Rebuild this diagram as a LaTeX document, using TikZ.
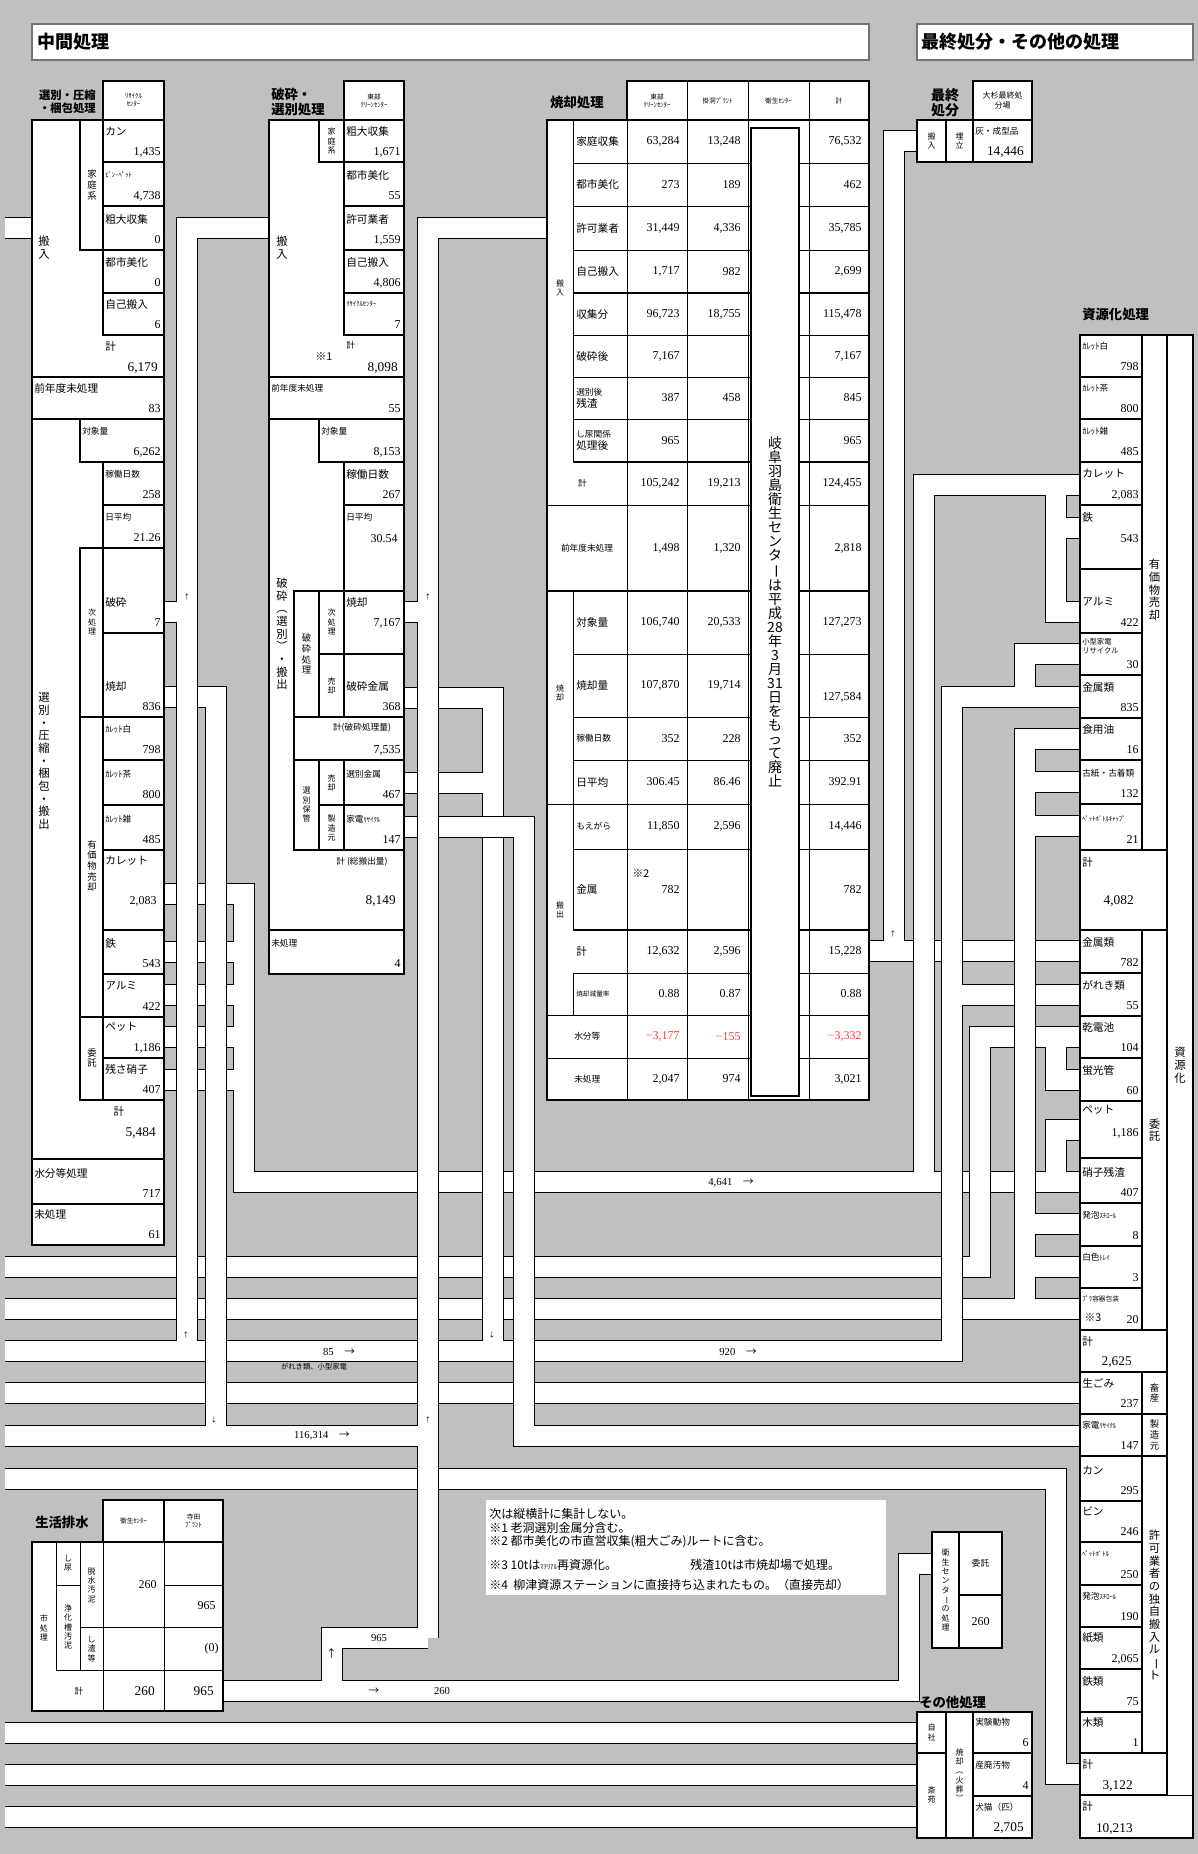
\documentclass[tikz,border=0pt]{standalone}
\usepackage{fontspec}
\setmainfont{Noto Sans CJK JP}
\newfontfamily\numfont{Liberation Serif}
\usepackage{graphicx}

\definecolor{bgray}{HTML}{C0C0C0}
\definecolor{negred}{HTML}{FF3B3B}

\newcommand\sml{\fontsize{6.5}{7.5}\selectfont}
\newcommand\tny{\fontsize{5}{6}\selectfont}
\newcommand\vbar{\rotatebox[origin=c]{-90}{ー}}

% box with label (upper left) and value (lower right)
\newcommand\itemcell[7]{%
  \draw[tbl] (#2,#3) rectangle (#4,#5);
  \node[lbl, anchor=west] (#1l) at (#2+2,#5-31) {#6};
  \node[val, anchor=east] (#1v) at (#4-3,#5-10) {#7};}

% one row of the incineration table
\newcommand\irow[6]{%
  \node[lbl, anchor=west] (#1l) at (576,#2) {#3};
  \node[val, anchor=east] (#1a) at (680,#2) {#4};
  \node[val, anchor=east] (#1b) at (741,#2) {#5};
  \node[val, anchor=east] (#1c) at (862,#2) {#6};}

% a pipe: black outline, then white inside
\newcommand\pipes[1]{\draw[pipeo] #1; \draw[pipei] #1;}

\begin{document}
\begin{tikzpicture}[x=0.75pt, y=-0.75pt,
  tbl/.style={draw, fill=white, line width=0.8pt},
  gline/.style={draw, line width=0.6pt},
  lbl/.style={font=\fontsize{8}{9}\selectfont, inner sep=0pt, align=left},
  val/.style={font=\numfont\fontsize{9}{10}\selectfont, inner sep=0pt},
  hdr/.style={font=\fontsize{5}{6}\selectfont, inner sep=0pt, align=center},
  vsml/.style={font=\fontsize{6}{7}\selectfont, inner sep=0pt, align=center},
  vlab/.style={font=\fontsize{7}{8}\selectfont, inner sep=0pt, align=center},
  vbig/.style={font=\fontsize{8.5}{9.5}\selectfont, inner sep=0pt, align=center},
  head/.style={font=\bfseries\fontsize{10}{11.5}\selectfont, inner sep=0pt, align=left},
  ttext/.style={font=\bfseries\fontsize{13.5}{15}\selectfont, inner sep=0pt},
  ttl/.style={draw=black!55, fill=white, line width=0.8pt},
  arw/.style={font=\fontsize{5}{5}\selectfont, inner sep=0pt},
  flowtxt/.style={font=\fontsize{8}{9}\selectfont, inner sep=0pt},
  notetxt/.style={font=\fontsize{9}{10}\selectfont, inner sep=0pt, anchor=west},
  pipeo/.style={draw=black, line width=16.5pt},
  pipei/.style={draw=white, line width=15pt}]

  % Background
  \path[use as bounding box, fill=bgray] (0,0) rectangle (1198,1854);

  % Pipes
  \pipes{(5,227.5) -- (32,227.5)}
  \pipes{(869,950.5) -- (1080,950.5) (893.5,950.5) -- (893.5,140.5) -- (917,140.5)}
  \pipes{(164,894) -- (244,894) -- (244,1182) -- (1080,1182)
    (164,952) -- (244,952) (164,995) -- (244,995) (164,1037) -- (244,1037) (164,1079.5) -- (244,1079.5)
    (924,1182) -- (924,484.5) -- (1080,484.5)
    (1056,484.5) -- (1056,611.5) -- (1080,611.5) (1056,527.5) -- (1080,527.5)
    (1056,1182) -- (1056,1130) -- (1080,1130)}
  \pipes{(5,1266.5) -- (980,1266.5) -- (980,1037) -- (1080,1037) (1056,1037) -- (1056,1079.5) -- (1080,1079.5)}
  \pipes{(5,1309) -- (1080,1309) (1025,1309) -- (1025,738.5) -- (1080,738.5)
    (1025,782) -- (1080,782) (1025,826) -- (1080,826) (1025,1224) -- (1080,1224) (1025,1266.5) -- (1080,1266.5)}
  \pipes{(5,1393) -- (1080,1393)}
  \pipes{(5,1478.5) -- (1056,1478.5) -- (1056,1774) -- (1080,1774)}
  \pipes{(5,1732.5) -- (917,1732.5)}
  \pipes{(5,1774.5) -- (917,1774.5)}
  \pipes{(5,1816.5) -- (917,1816.5)}
  \pipes{(164,611.5) -- (187,611.5) (187,1350.5) -- (187,227.5) -- (269,227.5)
    (5,1350.5) -- (952,1350.5) -- (952,696.5) -- (1080,696.5)
    (1025,696.5) -- (1025,653.5) -- (1080,653.5) (952,995) -- (1080,995)
    (404,697.5) -- (493,697.5) -- (493,1350.5) (404,783) -- (493,783)}
  \pipes{(404,827) -- (524,827) -- (524,1435.5) -- (1080,1435.5)}
  \pipes{(5,1435.5) -- (428,1435.5)
    (164,696.5) -- (215.5,696.5) -- (215.5,1435.5)
    (404,611.5) -- (428,611.5)
    (428,1637.5) -- (428,228) -- (547,228)
    (223,1691) -- (909,1691) -- (909,1563.5) -- (932,1563.5)
    (331.5,1691) -- (331.5,1637.5) -- (428,1637.5)}
  \pipes{(187,680) -- (187,713)}
  \pipes{(1025,980) -- (1025,1010)}

  % Titles
  \draw[ttl] (32,24) rectangle (869,60);
  \node[ttext, anchor=west] (t1) at (37,42) {中間処理};
  \draw[ttl] (917,24) rectangle (1193,60);
  \node[ttext, anchor=west] (t2) at (921,42) {最終処分・その他の処理};

  % 選別・圧縮・梱包処理
  \node[head, font=\bfseries\fontsize{8.5}{10}\selectfont, align=right, anchor=east] (h1) at (96,102) {選別・圧縮\\・梱包処理};
  \draw[tbl] (103,81) rectangle (164,120);
  \node[hdr] (h1c) at (133.5,100.5) {ﾘｻｲｸﾙ\\ｾﾝﾀｰ};
  \draw[tbl] (32,120) rectangle (164,1245);
  \draw[tbl] (80,120) rectangle (103,250);
  \node[vlab] (s1k) at (92,185) {家\\庭\\系};
  \itemcell{s1a}{103}{120}{164}{162}{カン}{1,435}
  \itemcell{s1b}{103}{162}{164}{206}{\tny ﾋﾞﾝ･ﾍﾟｯﾄ}{4,738}
  \itemcell{s1c}{103}{206}{164}{250}{粗大収集}{0}
  \itemcell{s1d}{103}{250}{164}{293}{都市美化}{0}
  \itemcell{s1e}{103}{293}{164}{335}{自己搬入}{6}
  \node[lbl, anchor=west] (s1t) at (105,346) {計};
  \node[val, anchor=east, font=\numfont\fontsize{10}{11}\selectfont] (s1tv) at (158,368) {6,179};
  \node[vbig] (s1in) at (44,248) {搬\\入};
  \itemcell{s1f}{32}{377}{164}{419}{前年度未処理}{83}
  \itemcell{s1g}{80}{419}{164}{462}{\sml 対象量}{6,262}
  \itemcell{s1h}{103}{462}{164}{505}{\sml 稼働日数}{258}
  \itemcell{s1i}{103}{505}{164}{548}{\sml 日平均}{21.26}
  \draw[tbl] (80,548) rectangle (103,717);
  \node[vsml] (s1j) at (92,622) {次\\処\\理};
  \itemcell{s1k2}{103}{548}{164}{633}{破砕}{7}
  \itemcell{s1l}{103}{633}{164}{717}{焼却}{836}
  \draw[tbl] (80,717) rectangle (103,1017);
  \node[vlab] (s1m) at (92,866) {有\\価\\物\\売\\却};
  \itemcell{s1n}{103}{717}{164}{760}{\sml ｶﾚｯﾄ白}{798}
  \itemcell{s1o}{103}{760}{164}{805}{\sml ｶﾚｯﾄ茶}{800}
  \itemcell{s1p}{103}{805}{164}{850}{\sml ｶﾚｯﾄ雑}{485}
  \draw[tbl] (103,850) rectangle (164,930);
  \node[lbl, anchor=west] (s1cl) at (105,861) {カレット};
  \node[val, anchor=east] (s1cv) at (157,901) {2,083};
  \itemcell{s1q}{103}{930}{164}{974}{鉄}{543}
  \itemcell{s1r}{103}{974}{164}{1017}{アルミ}{422}
  \draw[tbl] (80,1017) rectangle (103,1100);
  \node[vlab] (s1s) at (92,1058) {委\\託};
  \itemcell{s1u}{103}{1017}{164}{1058}{ペット}{1,186}
  \itemcell{s1w}{103}{1058}{164}{1100}{残さ硝子}{407}
  \node[lbl] (s1x) at (119,1111) {計};
  \node[val, anchor=east, font=\numfont\fontsize{10}{11}\selectfont] (s1xv) at (156,1133) {5,484};
  \itemcell{s1y}{32}{1159}{164}{1204}{水分等処理}{717}
  \itemcell{s1z}{32}{1204}{164}{1245}{未処理}{61}
  \node[vbig] (s1out) at (44,761) {選\\別\\・\\圧\\縮\\・\\梱\\包\\・\\搬\\出};

  % 破砕・選別処理
  \node[head, anchor=west] (h2) at (271,102) {破砕・\\選別処理};
  \draw[tbl] (344,81) rectangle (404,120);
  \node[hdr] (h2c) at (374,100.5) {東部\\ｸﾘｰﾝｾﾝﾀｰ};
  \draw[tbl] (269,120) rectangle (404,974);
  \draw[tbl] (319,120) rectangle (344,162);
  \node[vsml] (s2k) at (331.5,141) {家\\庭\\系};
  \itemcell{s2a}{344}{120}{404}{162}{粗大収集}{1,671}
  \itemcell{s2b}{344}{162}{404}{206}{都市美化}{55}
  \itemcell{s2c}{344}{206}{404}{250}{許可業者}{1,559}
  \itemcell{s2d}{344}{250}{404}{293}{自己搬入}{4,806}
  \itemcell{s2e}{344}{293}{404}{335}{\tny ﾘｻｲｸﾙｾﾝﾀｰ}{7}
  \node[lbl, anchor=west] (s2t) at (346,345) {\sml 計};
  \node[lbl] (s2n1) at (324,357) {※1};
  \node[val, anchor=east, font=\numfont\fontsize{10}{11}\selectfont] (s2tv) at (398,368) {8,098};
  \node[vbig] (s2in) at (282,248) {搬\\入};
  \itemcell{s2f}{269}{377}{404}{419}{\sml 前年度未処理}{55}
  \itemcell{s2g}{319}{419}{404}{462}{\sml 対象量}{8,153}
  \itemcell{s2h}{344}{462}{404}{505}{稼働日数}{267}
  \draw[tbl] (344,505) rectangle (404,591);
  \node[lbl, anchor=west] (s2il) at (346,517) {\sml 日平均};
  \node[val, anchor=east] (s2iv) at (398,539) {30.54};
  \draw[tbl] (294,591) rectangle (404,760);
  \draw[tbl] (294,591) rectangle (319,717);
  \node[vlab] (s2p) at (306.5,654) {破\\砕\\処\\理};
  \draw[tbl] (319,591) rectangle (344,654);
  \node[vsml] (s2j) at (331.5,622) {次\\処\\理};
  \draw[tbl] (344,591) rectangle (404,654);
  \node[lbl, anchor=west] (s2ol) at (346,602) {焼却};
  \node[val, anchor=east] (s2ov) at (401,623) {7,167};
  \draw[tbl] (319,654) rectangle (344,717);
  \node[vsml] (s2u1) at (331.5,686) {売\\却};
  \itemcell{s2q}{344}{654}{404}{717}{破砕金属}{368}
  \node[lbl] (s2sl) at (362,728) {\sml 計(破砕処理量)};
  \node[val, anchor=east] (s2sv) at (401,750) {7,535};
  \draw[tbl] (294,760) rectangle (404,850);
  \node[vsml] (s2h1) at (306.5,805) {選\\別\\保\\管};
  \draw[tbl] (319,760) rectangle (344,805);
  \node[vsml] (s2u2) at (331.5,783) {売\\却};
  \draw[tbl] (319,805) rectangle (344,850);
  \node[vsml] (s2m) at (331.5,828) {製\\造\\元};
  \itemcell{s2r}{344}{760}{404}{805}{\sml 選別金属}{467}
  \itemcell{s2s}{344}{805}{404}{850}{\sml 家電\tny ﾘｻｲｸﾙ}{147}
  \node[lbl] (s2tl) at (362,862) {\sml 計 (総搬出量)};
  \node[val, anchor=east, font=\numfont\fontsize{10}{11}\selectfont] (s2tv2) at (396,901) {8,149};
  \itemcell{s2v}{269}{930}{404}{974}{\sml 未処理}{4}
  \node[vbig] (s2out) at (282,634) {破\\砕\\︵\\選\\別\\︶\\・\\搬\\出};

  % 焼却処理
  \node[head, anchor=west] (h3) at (550,102) {焼却処理};
  \draw[tbl] (627,81) rectangle (869,120);
  \node[hdr] (h3a) at (657,100.5) {東部\\ｸﾘｰﾝｾﾝﾀｰ};
  \node[hdr] (h3b) at (717.5,100.5) {掛洞ﾌﾟﾗﾝﾄ};
  \node[hdr] (h3c) at (778.5,100.5) {衛生ｾﾝﾀｰ};
  \node[hdr] (h3d) at (839,100.5) {計};
  \draw[tbl] (547,120) rectangle (869,1100);
  \draw[gline] (573,120) -- (573,462) (573,591) -- (573,930) (573,973) -- (573,1015)
    (627,81) -- (627,1100) (687,81) -- (687,1100) (748,81) -- (748,1100) (809,81) -- (809,1100)
    (573,163) -- (869,163) (573,206) -- (869,206) (573,250) -- (869,250) (573,335) -- (869,335)
    (573,377) -- (869,377) (573,419) -- (869,419) (547,505) -- (869,505)
    (573,654) -- (869,654) (573,717) -- (869,717) (573,760) -- (869,760) (547,804) -- (869,804)
    (573,849) -- (869,849) (573,973) -- (869,973) (547,1015) -- (869,1015) (547,1058) -- (869,1058);
  \draw[line width=1.2pt] (573,293) -- (869,293) (573,462) -- (869,462) (547,591) -- (869,591) (573,930) -- (869,930);
  \node[vsml] (s3in) at (560,288) {搬\\入};
  \node[vsml] (s3ic) at (560,693) {焼\\却};
  \node[vsml] (s3out) at (560,910) {搬\\出};
  \irow{r01}{141.5}{家庭収集}{63,284}{13,248}{76,532}
  \irow{r02}{184.5}{都市美化}{273}{189}{462}
  \irow{r03}{228}{許可業者}{31,449}{4,336}{35,785}
  \irow{r04}{271.5}{自己搬入}{1,717}{982}{2,699}
  \irow{r05}{314}{収集分}{96,723}{18,755}{115,478}
  \irow{r06}{356}{破砕後}{7,167}{}{7,167}
  \irow{r07}{398}{\sml 選別後\\残渣}{387}{458}{845}
  \irow{r08}{440.5}{\sml し尿関係\\処理後}{965}{}{965}
  \irow{r09}{483.5}{\sml\ 計}{105,242}{19,213}{124,455}
  \node[lbl] (r10l) at (587,548) {\sml 前年度未処理};
  \node[val, anchor=east] (r10a) at (680,548) {1,498};
  \node[val, anchor=east] (r10b) at (741,548) {1,320};
  \node[val, anchor=east] (r10c) at (862,548) {2,818};
  \irow{r11}{622.5}{対象量}{106,740}{20,533}{127,273}
  \irow{r12}{685.5}{焼却量}{107,870}{19,714}{}
  \node[val, anchor=east] (r12d) at (862,697) {127,584};
  \irow{r13}{738.5}{\sml 稼働日数}{352}{228}{352}
  \irow{r14}{782}{日平均}{306.45}{86.46}{392.91}
  \irow{r15}{826.5}{\sml もえがら}{11,850}{2,596}{14,446}
  \irow{r16}{889.5}{金属}{782}{}{782}
  \node[lbl] (r16n) at (641,874) {※2};
  \irow{r17}{951.5}{計}{12,632}{2,596}{15,228}
  \irow{r18}{994}{\tny 焼却減量率}{0.88}{0.87}{0.88}
  \node[lbl, anchor=west] (r19l) at (574,1036.5) {\sml 水分等};
  \node[val, anchor=east, text=negred] (r19a) at (680,1036.5) {−3,177};
  \node[val, anchor=east, text=negred] (r19b) at (741,1036.5) {−155};
  \node[val, anchor=east, text=negred] (r19c) at (862,1036.5) {−3,332};
  \node[lbl, anchor=west] (r20l) at (574,1079) {\sml 未処理};
  \node[val, anchor=east] (r20a) at (680,1079) {2,047};
  \node[val, anchor=east] (r20b) at (741,1079) {974};
  \node[val, anchor=east] (r20c) at (862,1079) {3,021};
  \draw[tbl] (751,128) rectangle (799,1096);
  \node[font=\fontsize{10.5}{10.5}\selectfont, align=center, inner sep=0pt] (haishi) at (775,612)
    {岐\\阜\\羽\\島\\衛\\生\\セ\\ン\\タ\\\vbar\\は\\平\\成\\28\\年\\3\\月\\31\\日\\を\\も\\っ\\て\\廃\\止};

  % 最終処分
  \node[head, align=center, font=\bfseries\fontsize{10.5}{10}\selectfont] (h4) at (945,103) {最終\\処分};
  \draw[tbl] (973,81) rectangle (1032,120);
  \node[hdr, font=\fontsize{6}{7}\selectfont] (h4c) at (1002.5,100.5) {大杉最終処\\分場};
  \draw[tbl] (917,120) rectangle (946,162);
  \node[vsml] (f1a) at (931.5,141) {搬\\入};
  \draw[tbl] (946,120) rectangle (973,162);
  \node[vsml] (f1b) at (959.5,141) {埋\\立};
  \draw[tbl] (973,120) rectangle (1032,162);
  \node[lbl, anchor=west] (f1l) at (975,131) {\sml 灰・成型品};
  \node[val, anchor=east, font=\numfont\fontsize{10}{11}\selectfont] (f1v) at (1024,152) {14,446};

  % 資源化処理
  \node[head, anchor=west] (h5) at (1082,314) {資源化処理};
  \draw[tbl] (1080,335) rectangle (1193,1838);
  \draw[gline] (1167,335) -- (1167,1795) (1080,1795) -- (1193,1795);
  \draw[tbl] (1142,335) rectangle (1167,850);
  \draw[tbl] (1142,930) rectangle (1167,1330);
  \draw[tbl] (1142,1372) rectangle (1167,1414);
  \draw[tbl] (1142,1414) rectangle (1167,1456);
  \draw[tbl] (1142,1456) rectangle (1167,1753);
  \node[vbig] (g1) at (1154.5,590) {有\\価\\物\\売\\却};
  \node[vbig] (g2) at (1154.5,1130) {委\\託};
  \node[vlab] (g3) at (1154.5,1393) {畜\\産};
  \node[vlab] (g4) at (1154.5,1435) {製\\造\\元};
  \node[vbig] (g5) at (1154.5,1605) {許\\可\\業\\者\\の\\独\\自\\搬\\入\\ル\\\vbar\\ト};
  \node[vbig] (g6) at (1180,1065) {資\\源\\化};
  \itemcell{q01}{1080}{335}{1142}{377}{\sml ｶﾚｯﾄ白}{798}
  \itemcell{q02}{1080}{377}{1142}{419}{\sml ｶﾚｯﾄ茶}{800}
  \itemcell{q03}{1080}{419}{1142}{462}{\sml ｶﾚｯﾄ雑}{485}
  \itemcell{q04}{1080}{462}{1142}{505}{カレット}{2,083}
  \draw[tbl] (1080,505) rectangle (1142,569);
  \node[lbl, anchor=west] (q05l) at (1082,517) {鉄};
  \node[val, anchor=east] (q05v) at (1139,539) {543};
  \itemcell{q06}{1080}{569}{1142}{633}{アルミ}{422}
  \draw[tbl] (1080,633) rectangle (1142,675);
  \node[lbl, anchor=west, font=\fontsize{5.5}{6.5}\selectfont] (q07l) at (1082,646) {小型家電\\リサイクル};
  \node[val, anchor=east] (q07v) at (1139,665) {30};
  \itemcell{q08}{1080}{675}{1142}{718}{金属類}{835}
  \itemcell{q09}{1080}{718}{1142}{760}{食用油}{16}
  \itemcell{q10}{1080}{760}{1142}{804}{\sml 古紙・古着類}{132}
  \itemcell{q11}{1080}{804}{1142}{850}{\tny ﾍﾟｯﾄﾎﾞﾄﾙｷｬｯﾌﾟ}{21}
  \draw[tbl] (1080,850) rectangle (1167,930);
  \node[lbl, anchor=west] (q12l) at (1082,862) {計};
  \node[val, anchor=east, font=\numfont\fontsize{10}{11}\selectfont] (q12v) at (1134,901) {4,082};
  \itemcell{q13}{1080}{930}{1142}{973}{金属類}{782}
  \itemcell{q14}{1080}{973}{1142}{1016}{がれき類}{55}
  \itemcell{q15}{1080}{1016}{1142}{1058}{乾電池}{104}
  \itemcell{q16}{1080}{1058}{1142}{1101}{蛍光管}{60}
  \draw[tbl] (1080,1101) rectangle (1142,1158);
  \node[lbl, anchor=west] (q17l) at (1082,1110) {ペット};
  \node[val, anchor=east] (q17v) at (1139,1133) {1,186};
  \itemcell{q18}{1080}{1158}{1142}{1203}{硝子残渣}{407}
  \itemcell{q19}{1080}{1203}{1142}{1246}{\sml 発泡\tny ｽﾁﾛｰﾙ}{8}
  \itemcell{q20}{1080}{1246}{1142}{1288}{\sml 白色\tny ﾄﾚｲ}{3}
  \itemcell{q21}{1080}{1288}{1142}{1330}{\tny ﾌﾟﾗ容器包装}{20}
  \node[lbl] (q21n) at (1093,1318) {※3};
  \draw[tbl] (1080,1330) rectangle (1167,1372);
  \node[lbl, anchor=west] (q22l) at (1082,1341) {計};
  \node[val, anchor=east, font=\numfont\fontsize{10}{11}\selectfont] (q22v) at (1132,1362) {2,625};
  \itemcell{q23}{1080}{1372}{1142}{1414}{生ごみ}{237}
  \itemcell{q24}{1080}{1414}{1142}{1456}{\sml 家電\tny ﾘｻｲｸﾙ}{147}
  \itemcell{q25}{1080}{1456}{1142}{1501}{カン}{295}
  \itemcell{q26}{1080}{1501}{1142}{1542}{ビン}{246}
  \itemcell{q27}{1080}{1542}{1142}{1585}{\tny ﾍﾟｯﾄﾎﾞﾄﾙ}{250}
  \itemcell{q28}{1080}{1585}{1142}{1627}{\sml 発泡\tny ｽﾁﾛｰﾙ}{190}
  \itemcell{q29}{1080}{1627}{1142}{1669}{紙類}{2,065}
  \itemcell{q30}{1080}{1669}{1142}{1712}{鉄類}{75}
  \itemcell{q31}{1080}{1712}{1142}{1753}{木類}{1}
  \draw[tbl] (1080,1753) rectangle (1167,1795);
  \node[lbl, anchor=west] (q32l) at (1082,1764) {計};
  \node[val, anchor=east, font=\numfont\fontsize{10}{11}\selectfont] (q32v) at (1133,1786) {3,122};
  \node[lbl, anchor=west] (q33l) at (1082,1806) {計};
  \node[val, anchor=east, font=\numfont\fontsize{10}{11}\selectfont] (q33v) at (1133,1829) {10,213};

  % 衛生センターの処理
  \draw[tbl] (932,1532) rectangle (959,1648);
  \node[vsml] (e1) at (945.5,1590) {衛\\生\\セ\\ン\\タ\\\vbar\\の\\処\\理};
  \draw[tbl] (959,1532) rectangle (1002,1595);
  \node[lbl] (e2) at (980.5,1563.5) {\sml 委託};
  \draw[tbl] (959,1595) rectangle (1002,1648);
  \node[val] (e3) at (980.5,1621.5) {260};

  % その他処理
  \node[head, anchor=west] (h6) at (919,1702) {その他処理};
  \draw[tbl] (917,1712) rectangle (946,1753);
  \node[vsml] (o1a) at (931.5,1732.5) {自\\社};
  \draw[tbl] (917,1753) rectangle (946,1838);
  \node[vsml] (o1b) at (931.5,1795) {斎\\苑};
  \draw[tbl] (946,1712) rectangle (973,1838);
  \node[vsml] (o1c) at (959.5,1775) {焼\\却\\︵\\火\\葬\\︶};
  \itemcell{o1}{973}{1712}{1032}{1753}{\sml 実験動物}{6}
  \itemcell{o2}{973}{1753}{1032}{1796}{\sml 産廃汚物}{4}
  \draw[tbl] (973,1796) rectangle (1032,1838);
  \node[lbl, anchor=west] (o3l) at (975,1807) {\sml 犬猫（匹）};
  \node[val, anchor=east, font=\numfont\fontsize{10}{11}\selectfont] (o3v) at (1024,1828) {2,705};

  % 生活排水
  \node[head, anchor=west] (h7) at (35,1522) {生活排水};
  \draw[tbl] (103,1500) rectangle (164,1542);
  \node[hdr] (h7a) at (133.5,1521) {衛生ｾﾝﾀｰ};
  \draw[tbl] (164,1500) rectangle (223,1542);
  \node[hdr] (h7b) at (193.5,1521) {寺田\\ﾌﾟﾗﾝﾄ};
  \draw[tbl] (32,1542) rectangle (223,1711);
  \draw[gline] (56,1542) -- (56,1670) -- (223,1670) (56,1585) -- (80,1585) (80,1542) -- (80,1670)
    (80,1627) -- (223,1627) (103,1542) -- (103,1711) (164,1542) -- (164,1711) (164,1585) -- (223,1585);
  \node[vsml] (w1) at (44,1628) {市\\処\\理};
  \node[vsml] (w2) at (68,1563) {し\\尿};
  \node[vsml] (w3) at (68,1627) {浄\\化\\槽\\汚\\泥};
  \node[vsml] (w4) at (91.5,1585) {脱\\水\\汚\\泥};
  \node[vsml] (w5) at (91.5,1649) {し\\渣\\等};
  \node[val, anchor=east] (w6) at (157,1585) {260};
  \node[val, anchor=east] (w7) at (216,1606) {965};
  \node[val, anchor=east] (w8) at (219,1649) {(0)};
  \node[lbl] (w9) at (79,1691) {\sml 計};
  \node[val, anchor=east, font=\numfont\fontsize{10}{11}\selectfont] (w10) at (155,1691) {260};
  \node[val, anchor=east, font=\numfont\fontsize{10}{11}\selectfont] (w11) at (214,1691) {965};

  % Flow marks
  \node[arw] (m1) at (187,597) {↑};
  \node[arw] (m2) at (428,597) {↑};
  \node[arw] (m3) at (893,934) {↑};
  \node[arw] (m4) at (186,1335) {↑};
  \node[arw] (m5) at (492,1335) {↓};
  \node[arw] (m6) at (214,1420) {↓};
  \node[arw] (m7) at (428,1420) {↑};
  \node[flowtxt] (m8) at (331.5,1653) {↑};
  \node[flowtxt] (fl1) at (339,1352) {{\numfont 85}\quad →};
  \node[font=\fontsize{5.5}{6}\selectfont, inner sep=0pt] (fl2) at (314,1367) {がれき類、小型家電};
  \node[flowtxt] (fl3) at (738,1352) {{\numfont 920}\quad →};
  \node[flowtxt] (fl4) at (731,1183) {{\numfont 4,641}\quad →};
  \node[flowtxt] (fl5) at (322,1436) {{\numfont 116,314}\quad →};
  \node[flowtxt] (fl6) at (379,1638) {\numfont 965};
  \node[flowtxt] (fl7) at (374,1691) {→};
  \node[flowtxt] (fl8) at (442,1691) {\numfont 260};

  % Notes
  \fill[white] (486,1500) rectangle (886,1595);
  \node[notetxt] (n1) at (489,1514) {次は縦横計に集計しない。};
  \node[notetxt] (n2) at (489,1528) {※1\ 老洞選別金属分含む。};
  \node[notetxt] (n3) at (489,1542) {※2\ 都市美化の市直営収集(粗大ごみ)ルートに含む。};
  \node[notetxt] (n4) at (489,1565) {※3\ 10tは{\tny ﾏﾃﾘｱﾙ}再資源化。};
  \node[notetxt] (n4b) at (690,1565) {残渣10tは市焼却場で処理。};
  \node[notetxt] (n5) at (489,1585) {※4\ \ 柳津資源ステーションに直接持ち込まれたもの。（直接売却）};
\end{tikzpicture}
\end{document}
